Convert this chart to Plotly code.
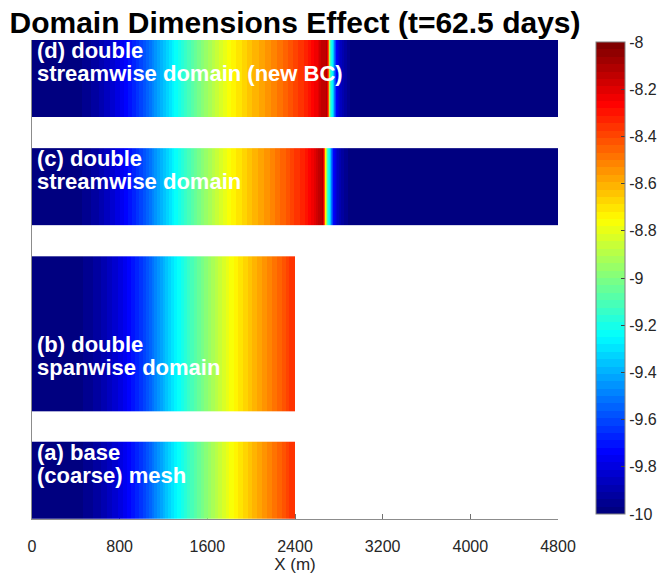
import plotly.graph_objects as go

# ---- data: log10 concentration sampled along the streamwise direction (m) ----
# (a) base (coarse) mesh
x_base = [0, 200, 400, 600, 800, 1000, 1200, 1400, 1600, 1800, 2000, 2200, 2400]
c_base = [-10.0, -10.0, -9.99, -9.92, -9.80, -9.63, -9.39, -9.17, -8.97, -8.78, -8.63, -8.49, -8.36]

# (b) double spanwise domain
x_span = [0, 200, 400, 600, 800, 1000, 1200, 1400, 1600, 1800, 2000, 2200, 2400]
c_span = [-10.0, -10.0, -9.99, -9.92, -9.80, -9.63, -9.39, -9.17, -8.97, -8.78, -8.63, -8.49, -8.36]

# (c) double streamwise domain
x_stream = [0, 200, 400, 600, 800, 1000, 1200, 1400, 1600, 1800, 2000, 2200, 2400,
            2520, 2620, 2660, 2675, 2690, 2710, 2740, 2790, 2870, 3000, 4800]
c_stream = [-10.0, -10.0, -9.99, -9.91, -9.78, -9.60, -9.36, -9.14, -8.94, -8.76, -8.63, -8.51, -8.38,
            -8.28, -8.15, -8.12, -8.75, -9.10, -9.30, -9.72, -9.88, -9.97, -10.0, -10.0]

# (d) double streamwise domain (new BC)
x_newbc = [0, 200, 400, 600, 800, 1000, 1200, 1400, 1600, 1800, 2000, 2200, 2400,
           2550, 2650, 2690, 2705, 2720, 2740, 2770, 2820, 2900, 3000, 4800]
c_newbc = [-10.0, -10.0, -9.99, -9.91, -9.78, -9.60, -9.36, -9.14, -8.94, -8.76, -8.63, -8.52, -8.40,
           -8.29, -8.15, -8.12, -8.75, -9.10, -9.30, -9.72, -9.88, -9.97, -10.0, -10.0]

# spanwise extent of each domain (in base-domain widths)
span_width = [1, 2, 1, 1]

panel_labels = [
    ("(a) base", "(coarse) mesh"),
    ("(b) double", "spanwise domain"),
    ("(c) double", "streamwise domain"),
    ("(d) double", "streamwise domain (new BC)"),
]

x_ticks = [0, 800, 1600, 2400, 3200, 4000, 4800]
cbar_ticks = [-8, -8.2, -8.4, -8.6, -8.8, -9, -9.2, -9.4, -9.6, -9.8, -10]
cbar_text = ["-8", "-8.2", "-8.4", "-8.6", "-8.8", "-9", "-9.2", "-9.4", "-9.6", "-9.8", "-10"]

# ---- styling ----
FONT = "Liberation Sans, Arial, Helvetica, sans-serif"
TXT = "#262626"
GAP = 0.4  # vertical spacing between stacked domains


def jet(t):
    r = min(1.0, max(0.0, 1.5 - abs(4 * t - 3)))
    g = min(1.0, max(0.0, 1.5 - abs(4 * t - 2)))
    b = min(1.0, max(0.0, 1.5 - abs(4 * t - 1)))
    return f"rgb({round(r * 255)},{round(g * 255)},{round(b * 255)})"


# 64-level stepped jet colormap
N = 64
jet_scale = []
for i in range(N):
    col = jet(i / (N - 1))
    jet_scale.append([i / N, col])
    jet_scale.append([(i + 1) / N, col])


def edges(xs):
    mids = [(a + b) / 2 for a, b in zip(xs[:-1], xs[1:])]
    return [xs[0]] + mids + [xs[-1]]


profiles = [(x_base, c_base), (x_span, c_span), (x_stream, c_stream), (x_newbc, c_newbc)]

fig = go.Figure()
annotations = []
y0 = 0.0
for (xs, cs), h, (l1, l2) in zip(profiles, span_width, panel_labels):
    y1 = y0 + h
    fig.add_trace(go.Heatmap(
        x=edges(xs),
        y=[y0, (y0 + y1) / 2, y1],
        z=[cs, cs],
        coloraxis="coloraxis",
        zsmooth="best",
        hoverinfo="skip",
    ))
    label_y = y0 + 1.0
    for k, line in enumerate((l1, l2)):
        annotations.append(dict(
            x=0, y=label_y, xref="x", yref="y",
            xanchor="left", yanchor="top",
            xshift=4, yshift=3 - 23 * k,
            text=line, showarrow=False, borderpad=0,
            font=dict(family=FONT, size=22, color="white", weight="bold"),
        ))
    y0 = y1 + GAP

y_top = y0 - GAP

# plot area: 32..558 px horizontally, 40..519 px vertically
PLOT_H = 576 - 40 - 57
PLOT_W = 665 - 32 - 107

fig.update_layout(
    width=665, height=576,
    margin=dict(l=32, r=107, t=40, b=57, autoexpand=False),
    paper_bgcolor="white", plot_bgcolor="white",
    title=dict(
        text="Domain Dimensions Effect (t=62.5 days)",
        x=0.5, xref="paper", xanchor="center",
        y=1 - 22 / 576, yref="container", yanchor="middle",
        font=dict(family=FONT, size=30, color="black", weight="bold"),
    ),
    coloraxis=dict(
        cmin=-10, cmax=-8,
        colorscale=jet_scale,
        colorbar=dict(
            x=(596 - 32) / PLOT_W, xanchor="left", xpad=0,
            y=(519 - 278) / PLOT_H, yanchor="middle", ypad=0,
            len=472, lenmode="pixels",
            thickness=29, thicknessmode="pixels",
            outlinecolor="#808080", outlinewidth=1,
            ticks="inside", ticklen=4, tickcolor="#404040",
            tickvals=cbar_ticks, ticktext=cbar_text,
            tickfont=dict(family=FONT, size=16, color=TXT),
        ),
    ),
    xaxis=dict(
        range=[0, 4800], tickvals=x_ticks,
        ticks="inside", ticklen=5, tickcolor="#707070",
        showline=True, linecolor="#8c8c8c", linewidth=1,
        showgrid=False, zeroline=False, layer="below traces",
        tickfont=dict(family=FONT, size=16, color=TXT),
        ticklabelstandoff=13,
        title=dict(text="X (m)", font=dict(family=FONT, size=17, color=TXT), standoff=3),
    ),
    yaxis=dict(
        range=[0, y_top], showticklabels=False, ticks="",
        showline=True, linecolor="#8c8c8c", linewidth=1,
        showgrid=False, zeroline=False, layer="below traces",
    ),
    annotations=annotations,
    showlegend=False,
)

fig.write_html("out.html")
